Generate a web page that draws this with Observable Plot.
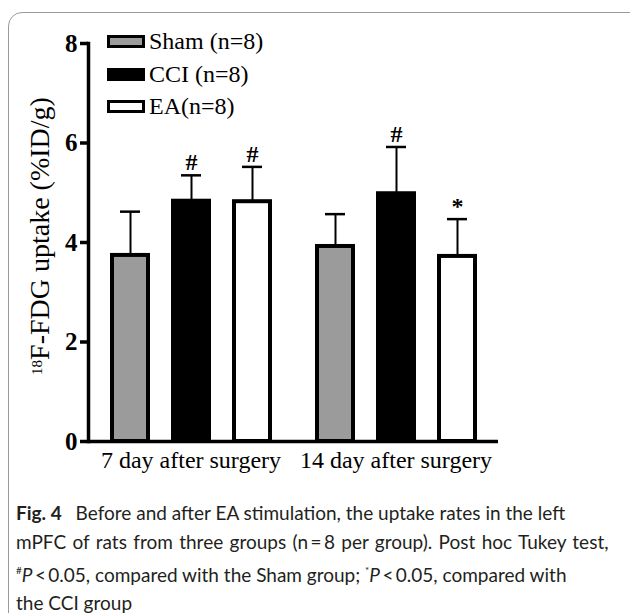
<!DOCTYPE html>
<html>
<head>
<meta charset="utf-8">
<script src="https://cdn.jsdelivr.net/npm/d3@7"></script>
<script src="https://cdn.jsdelivr.net/npm/@observablehq/plot@0.6"></script>
<style>
  html, body { margin: 0; padding: 0; background: #fff; }
  body { width: 630px; height: 613px; position: relative; overflow: hidden; }
  #card { position: absolute; left: 8px; top: 12px; width: 640px; height: 620px;
          border: 1.5px solid #9a9a9a; border-radius: 14px; box-sizing: border-box; }
  #chart { position: absolute; left: 0; top: 0; }
  .serif { font-family: "Liberation Serif", "Times New Roman", serif; color: #000; }
  #ylabel { position: absolute; left: 40px; top: 236px; transform: translate(-50%, -50%) rotate(-90deg);
            white-space: nowrap; font-size: 28px; line-height: 1; }
  #ylabel sup { font-size: 15px; vertical-align: 0.45em; }
  .leg { position: absolute; left: 107px; height: 13px; width: 38px; box-sizing: border-box;
         border: 3.5px solid #000; }
  .legt { position: absolute; left: 149px; font-size: 24px; line-height: 1; white-space: nowrap; }
  #caption { position: absolute; left: 16px; top: 499px; font-family: Lato, "Noto Sans", sans-serif;
             font-size: 19px; line-height: 28.5px; color: #231f20; white-space: nowrap; }
  #caption b { font-weight: 700; margin-right: 9px; }
  #caption sup { font-size: 10px; vertical-align: 0.75em; }
  #caption .wide { word-spacing: 1.5px; }
</style>
</head>
<body>
<div id="card"></div>
<div id="chart"></div>
<div id="ylabel" class="serif"><sup>18</sup>F-FDG uptake (%ID/g)</div>
<div id="legend"></div>
<div id="caption"></div>
<script>
// ---- data ----
const days = ["7 day after surgery", "14 day after surgery"];
const groups = ["Sham", "CCI", "EA"];
const legendLabels = ["Sham (n=8)", "CCI (n=8)", "EA(n=8)"];
const groupColors = ["#9b9b9b", "#000000", "#ffffff"];
// means for [Sham, CCI, EA] at 7 d then 14 d
const means7 = [3.74, 4.83, 4.82];
const means14 = [3.92, 4.98, 3.72];
const sd7 = [0.88, 0.52, 0.70];
const sd14 = [0.65, 0.94, 0.75];
const sig7 = ["", "#", "#"];
const sig14 = ["", "#", "*"];
const yTicks = [0, 2, 4, 6, 8];

const data = [];
groups.forEach((g, i) => {
  data.push({day: days[0], group: g, mean: means7[i], sd: sd7[i], sig: sig7[i]});
  data.push({day: days[1], group: g, mean: means14[i], sd: sd14[i], sig: sig14[i]});
});

const serif = "Liberation Serif, Times New Roman, serif";

const chart = Plot.plot({
  width: 630,
  height: 480,
  marginLeft: 88,
  marginRight: 132,
  marginTop: 43,
  marginBottom: 39,
  style: { fontFamily: serif, color: "#000", background: "transparent", overflow: "visible" },
  fx: { domain: days, padding: 0, label: null },
  x: { domain: groups, padding: 0.345, axis: null },
  y: { domain: [0, 8], label: null },
  color: { domain: groups, range: groupColors },
  marks: [
    Plot.barY(data, { fx: "day", x: "group", y: "mean", fill: "group",
      stroke: "#000", strokeWidth: 4, insetLeft: 2, insetRight: 2 }),
    Plot.ruleX(data, { fx: "day", x: "group", y1: "mean", y2: d => d.mean + d.sd, strokeWidth: 2 }),
    Plot.tickY(data, { fx: "day", x: "group", y: d => d.mean + d.sd, strokeWidth: 2.5, insetLeft: 10, insetRight: 10 }),
    Plot.text(data.filter(d => d.sig), { fx: "day", x: "group", y: d => d.mean + d.sd, text: "sig",
      dy: -13, fontSize: 24, fontWeight: "bold", fontFamily: serif }),
    Plot.ruleY([0], { strokeWidth: 3.5 }),
    Plot.frame({ anchor: "left", facetAnchor: "left", strokeWidth: 3.5 }),
    Plot.axisY({ ticks: yTicks, tickSize: 8, tickPadding: 3, fontSize: 25, fontWeight: "bold",
      strokeWidth: 3.5, label: null }),
    Plot.axisFx({ anchor: "bottom", tickSize: 0, tickPadding: 9, fontSize: 24, label: null })
  ]
});
document.getElementById("chart").appendChild(chart);

// legend
const legend = document.getElementById("legend");
const legTops = [35, 68, 100];
legendLabels.forEach((lab, i) => {
  const sw = document.createElement("div");
  sw.className = "leg";
  sw.style.top = legTops[i] + "px";
  sw.style.background = groupColors[i];
  legend.appendChild(sw);
  const t = document.createElement("div");
  t.className = "legt serif";
  t.style.top = (legTops[i] - 6) + "px";
  t.textContent = lab;
  legend.appendChild(t);
});

document.getElementById("caption").innerHTML =
  "<b>Fig. 4</b> Before and after EA stimulation, the uptake rates in the left<br>" +
  "<span class='wide'>mPFC of rats from three groups (n\u2009=\u20098 per group). Post hoc Tukey test,</span><br>" +
  "<sup>#</sup><i>P</i>\u2009&lt;\u20090.05, compared with the Sham group; <sup>*</sup><i>P</i>\u2009&lt;\u20090.05, compared with<br>" +
  "the CCI group";
</script>
</body>
</html>
